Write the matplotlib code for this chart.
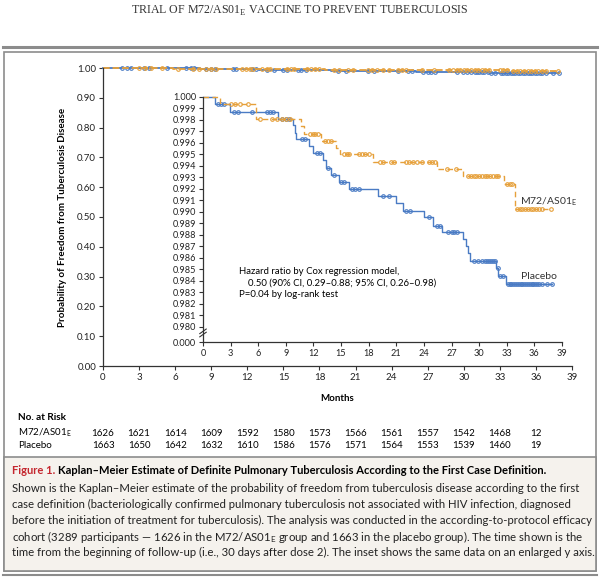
import numpy as np
import matplotlib
matplotlib.use('Agg')
import matplotlib.pyplot as plt
from matplotlib.lines import Line2D
from matplotlib.patches import Rectangle

plt.rcParams['font.family'] = ['Lato', 'DejaVu Sans']
plt.rcParams['mathtext.fontset'] = 'custom'
plt.rcParams['mathtext.rm'] = 'Lato'

# Kaplan-Meier steps: time of drop (months) and new level
placebo_t = [1.3, 2.9, 8.1, 9.8, 10.0, 10.15, 11.5, 11.95, 13.0, 13.4, 13.9, 14.8, 15.9,
             19.0, 21.0, 21.7, 24.0, 25.0, 26.0, 28.2, 28.6, 28.8, 29.0, 31.8, 32.1, 32.9]
placebo_s = [0.9994, 0.9987, 0.9981, 0.9976, 0.9969, 0.9963, 0.9957, 0.9951, 0.9945, 0.9938,
             0.9932, 0.9926, 0.9920, 0.9914, 0.9908, 0.9901, 0.9895, 0.9888, 0.9882, 0.9876,
             0.9870, 0.9864, 0.9857, 0.9851, 0.9844, 0.9837]
placebo_end = 37.9
placebo_cens = [1.6, 2.0, 2.3, 3.4, 3.8, 5.3, 6.9, 7.3, 7.6, 8.6, 9.0, 9.3, 10.8, 11.1, 12.4, 12.7,
                13.6, 14.2, 15.0, 15.3, 16.2, 16.5, 16.9, 19.5, 20.2, 22.0, 22.5, 24.5, 25.4, 25.7,
                26.6, 27.0, 27.3, 27.6, 29.4, 29.9, 30.3, 30.6, 30.9, 31.1, 31.3, 31.5, 31.7, 32.0,
                32.3, 32.6, 33.1, 33.3, 33.5, 33.7, 33.9, 34.1, 34.3, 34.5, 34.7, 34.9, 35.1, 35.3,
                35.5, 35.7, 35.9, 36.1, 36.3, 36.5, 36.8, 37.4, 37.9]

vaccine_t = [1.8, 5.8, 10.6, 11.0, 12.8, 14.5, 14.9, 18.45, 25.4, 28.2, 32.7, 33.9]
vaccine_s = [0.9994, 0.9981, 0.9975, 0.9968, 0.9962, 0.99555, 0.9950, 0.9943, 0.9937,
             0.9931, 0.9924, 0.9902]
vaccine_end = 37.8
vaccine_cens = [3.0, 3.5, 4.0, 4.9, 6.2, 7.5, 8.0, 8.6, 9.0, 9.4, 11.6, 11.9, 12.2, 12.5,
                13.2, 13.6, 13.9, 15.3, 15.6, 15.9, 17.0, 17.3, 17.6, 18.0, 19.2, 19.6, 20.4,
                20.8, 22.0, 22.4, 22.8, 23.3, 23.8, 24.5, 24.9, 25.2, 26.5, 27.5, 28.8, 29.1,
                29.4, 29.7, 30.0, 30.3, 30.6, 30.9, 31.2, 31.5, 31.8, 32.1, 33.0, 33.3, 33.6,
                34.1, 34.4, 34.7, 35.0, 35.3, 35.6, 35.9, 36.2, 36.5, 36.8, 37.8]

months = np.arange(0, 40, 3)
risk_vaccine = [1626, 1621, 1614, 1609, 1592, 1580, 1573, 1566, 1561, 1557, 1542, 1468, 12]
risk_placebo = [1663, 1650, 1642, 1632, 1610, 1586, 1576, 1571, 1564, 1553, 1539, 1460, 19]

inset_ticks = [0.980, 0.981, 0.982, 0.983, 0.984, 0.985, 0.986, 0.987, 0.988, 0.989, 0.990,
               0.991, 0.992, 0.993, 0.994, 0.995, 0.996, 0.997, 0.998, 0.999, 1.000]

caption_lines = [
    'Shown is the Kaplan\u2013Meier estimate of the probability of freedom from tuberculosis disease according to the first',
    'case definition (bacteriologically confirmed pulmonary tuberculosis not associated with HIV infection, diagnosed',
    'before the initiation of treatment for tuberculosis). The analysis was conducted in the according-to-protocol efficacy',
    'cohort (3289 participants \u2014 1626 in the M72/AS01$_\\mathregular{E}$ group and 1663 in the placebo group). The time shown is the',
    'time from the beginning of follow-up (i.e., 30 days after dose 2). The inset shows the same data on an enlarged y axis.',
]

blue = '#4a7bc4'
orange = '#e6a03a'
W, H = 600, 577


def fx(px):
    return px / W


def fy(py):
    return 1 - py / H


def km_curve(t, s, end):
    tt = np.array([0] + t + [end])
    ss = np.array([1.0] + s + [s[-1]])
    return tt, ss


def level_at(t, s, c):
    idx = np.searchsorted(np.array(t), np.array(c), side='right')
    lv = np.array([1.0] + s)
    return lv[idx]


fig = plt.figure(figsize=(6, 5.77), dpi=100)

# frames
fig.add_artist(Line2D([fx(3), fx(597)], [fy(47), fy(47)], color='#8c8c8c', lw=2.2))
fig.add_artist(Rectangle((fx(4), fy(571)), fx(592), fy(52) - fy(571), fill=False,
                         ec='#8c8c8c', lw=1.2))
fig.add_artist(Rectangle((fx(4), fy(571)), fx(592), fy(457) - fy(571), fc='#f5f2ed',
                         ec='#8c8c8c', lw=1.2))
fig.add_artist(Line2D([fx(3), fx(597)], [fy(575), fy(575)], color='#8c8c8c', lw=1.5))

fig.text(0.5, fy(11), 'TRIAL OF M72/AS01$_\\mathregular{E}$ VACCINE TO PREVENT TUBERCULOSIS',
         ha='center', va='center', fontsize=8.6, family='Liberation Serif', color='#333333')

# main axes
ax = fig.add_axes([fx(103), fy(366), fx(572) - fx(103), fy(68) - fy(366)])
for t, s, end, cens, col, ls in [(placebo_t, placebo_s, placebo_end, placebo_cens, blue, '-'),
                                 (vaccine_t, vaccine_s, vaccine_end, vaccine_cens, orange, '--')]:
    tt, ss = km_curve(t, s, end)
    ax.step(tt, ss, where='post', color=col, lw=1.3, ls=ls, clip_on=False)
    ax.plot(cens, level_at(t, s, cens), 'o', ms=2.6, mfc='none', mec=col, mew=0.8, clip_on=False)
ax.set_xlim(0, 39)
ax.set_ylim(0, 1.0)
ax.set_xticks(months)
ax.set_yticks(np.arange(0, 1.01, 0.1))
ax.set_yticklabels(['%.2f' % v for v in np.arange(0, 1.01, 0.1)])
ax.spines['top'].set_visible(False)
ax.spines['right'].set_visible(False)
for sp in ['left', 'bottom']:
    ax.spines[sp].set_color('#333333')
    ax.spines[sp].set_linewidth(0.9)
ax.tick_params(labelsize=7, length=3, width=0.8, color='#333333', labelcolor='#222222', pad=2)
ax.set_xlabel('Months', fontsize=7, fontweight='bold', labelpad=9)
ax.set_ylabel('Probability of Freedom from Tuberculosis Disease', fontsize=7,
              fontweight='bold', labelpad=7)

# inset axes
y0 = 0.98 - 0.00135
ax2 = fig.add_axes([fx(203), fy(342), fx(562) - fx(203), fy(97) - fy(342)])
ax2.patch.set_alpha(0)
for t, s, end, cens, col, ls in [(placebo_t, placebo_s, placebo_end, placebo_cens, blue, '-'),
                                 (vaccine_t, vaccine_s, vaccine_end, vaccine_cens, orange, '--')]:
    tt, ss = km_curve(t, s, end)
    ax2.step(tt, ss, where='post', color=col, lw=1.0, ls=ls, dashes=(4, 2.5) if ls == '--' else (None, None), clip_on=False)
    ax2.plot(cens, level_at(t, s, cens), 'o', ms=2.6, mfc='none', mec=col, mew=0.8, clip_on=False)
ax2.set_xlim(0, 39)
ax2.set_ylim(y0, 1.0)
ax2.set_xticks(months)
ax2.set_yticks([y0] + inset_ticks)
ax2.set_yticklabels(['0.000'] + ['%.3f' % v for v in inset_ticks])
ax2.spines['top'].set_visible(False)
ax2.spines['right'].set_visible(False)
for sp in ['left', 'bottom']:
    ax2.spines[sp].set_color('#333333')
    ax2.spines[sp].set_linewidth(0.9)
ax2.tick_params(labelsize=6.6, length=3, width=0.8, color='#333333', labelcolor='#222222', pad=2)
# axis break marks
yb = 0.9793
for dy in [0, 0.00028]:
    ax2.plot([-0.35, 0.35], [yb - 0.0002 + dy, yb + 0.0002 + dy], color='#333333', lw=0.8,
             clip_on=False)

ax2.text(3.9, 0.9848, 'Hazard ratio by Cox regression model,', fontsize=6.9, va='center')
ax2.text(4.85, 0.9838, '0.50 (90% CI, 0.29\u20130.88; 95% CI, 0.26\u20130.98)', fontsize=6.9, va='center')
ax2.text(3.9, 0.98275, 'P=0.04 by log-rank test', fontsize=6.9, va='center')
ax2.text(34.4, 0.9909, 'M72/AS01$_\\mathregular{E}$', fontsize=7.5, va='center', color='#333333')
ax2.text(34.5, 0.98435, 'Placebo', fontsize=7.5, va='center', color='#333333')

# number at risk
fig.text(fx(18), fy(418), 'No. at Risk', fontsize=7.2, fontweight='bold', va='center')
fig.text(fx(18), fy(433), 'M72/AS01$_\\mathregular{E}$', fontsize=7, va='center')
fig.text(fx(18), fy(446), 'Placebo', fontsize=7, va='center')
for m, a, b in zip(months, risk_vaccine, risk_placebo):
    xf = fx(103 + m * (572 - 103) / 39)
    fig.text(xf, fy(433), str(a), fontsize=7, ha='center', va='center')
    fig.text(xf, fy(446), str(b), fontsize=7, ha='center', va='center')

# caption
t1 = fig.text(fx(12), fy(470), 'Figure 1.', fontsize=8.0, fontweight='bold', color='#c4262e',
              va='center')
fig.canvas.draw()
bb = t1.get_window_extent()
fig.text(bb.x1 / fig.dpi / 6 + fx(3), fy(470),
         'Kaplan\u2013Meier Estimate of Definite Pulmonary Tuberculosis According to the First Case Definition.',
         fontsize=8.0, fontweight='bold', va='center')
for i, line in enumerate(caption_lines):
    fig.text(fx(12), fy(489 + i * 15.9), line, fontsize=8.2, va='center', color='#222222')

fig.savefig('out.png', dpi=100)
